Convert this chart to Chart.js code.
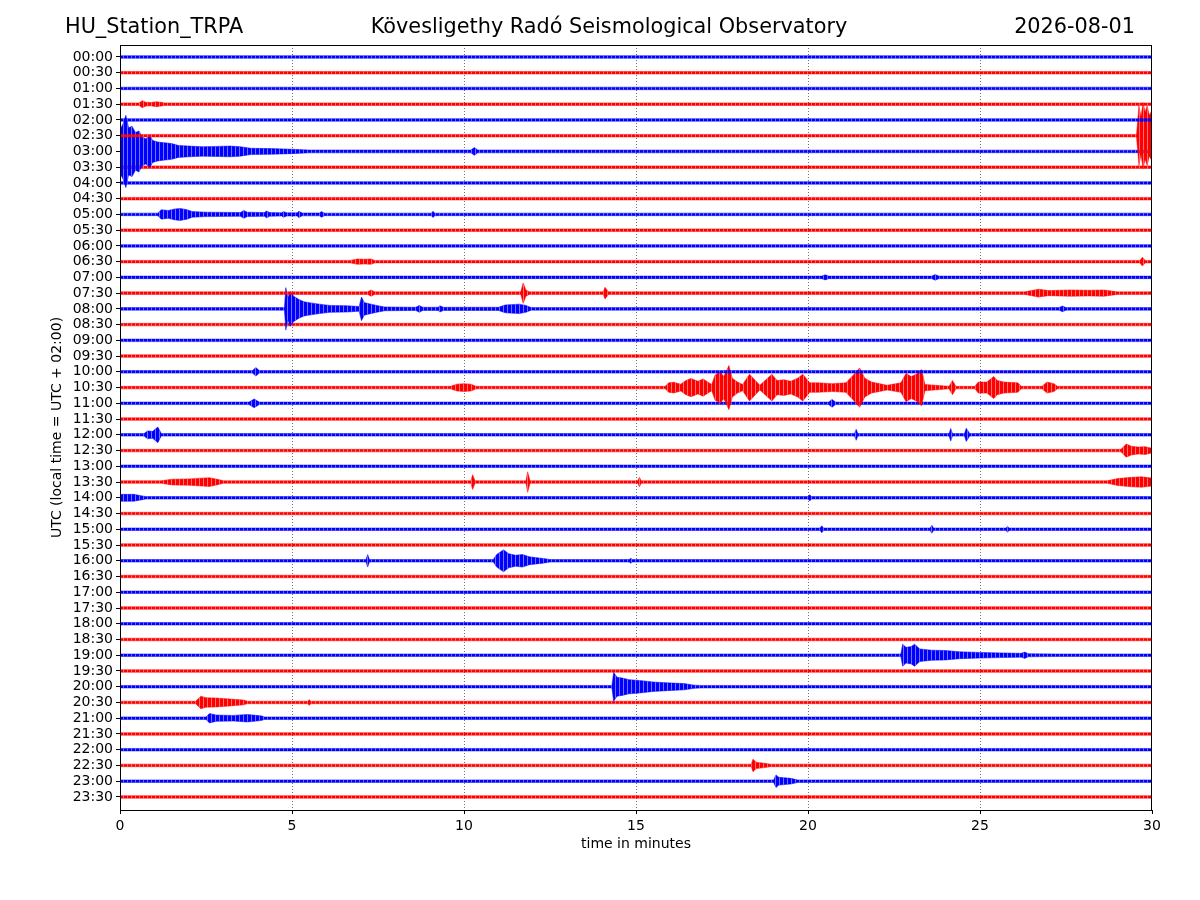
<!DOCTYPE html>
<html>
<head>
<meta charset="utf-8">
<script src="https://cdn.jsdelivr.net/npm/chart.js@4.4.1/dist/chart.umd.min.js"></script>
<style>
  html, body { margin: 0; padding: 0; background: #fff; }
  #wrap { width: 1200px; height: 900px; position: relative; }
</style>
</head>
<body>
<div id="wrap"><canvas id="heli" width="1200" height="900"></canvas></div>
<script>
// helicorder: one trace per half hour, 30 minutes wide

var stationName = 'HU_Station_TRPA';
var observatory = 'Kövesligethy Radó Seismological Observatory';
var dayLabel = '2026-08-01';

var rowLabels = ['00:00','00:30','01:00','01:30','02:00','02:30','03:00','03:30',
  '04:00','04:30','05:00','05:30','06:00','06:30','07:00','07:30',
  '08:00','08:30','09:00','09:30','10:00','10:30','11:00','11:30',
  '12:00','12:30','13:00','13:30','14:00','14:30','15:00','15:30',
  '16:00','16:30','17:00','17:30','18:00','18:30','19:00','19:30',
  '20:00','20:30','21:00','21:30','22:00','22:30','23:00','23:30'];

var xTicks = [0, 5, 10, 15, 20, 25, 30];

// background noise half-width, in trace spacings
var noise = 0.08;

// envelopes: [minute, half amplitude (trace spacings)]
var ev0130 = [[0.55,0.08],[0.65,0.22],[0.75,0.12],[0.9,0.1],[1.05,0.16],[1.2,0.12],[1.3,0.08]];
var ev0230 = [[29.55,0.08],[29.62,1.9],[29.68,1.2],[29.74,2.1],[29.8,1.5],[29.86,1.9],[29.92,1.3],[30,1.6]];
var ev0300 = [[0,1.4],[0.1,1.8],[0.17,2.3],[0.25,1.5],[0.35,1.6],[0.45,1.2],[0.55,1.3],[0.65,0.9],
  [0.75,0.8],[0.87,1.0],[0.95,0.7],[1.1,0.6],[1.3,0.55],[1.5,0.5],[1.7,0.38],[2.0,0.34],[2.4,0.3],
  [2.8,0.32],[3.2,0.34],[3.5,0.3],[3.8,0.2],[4.4,0.18],[5.0,0.14],[5.5,0.09],[10.2,0.09],[10.3,0.25],[10.4,0.09]];
var ev0500 = [[1.1,0.08],[1.2,0.3],[1.4,0.25],[1.6,0.35],[1.75,0.38],[1.95,0.3],[2.1,0.18],[2.5,0.14],
  [3.5,0.12],[3.6,0.25],[3.7,0.14],[4.2,0.12],[4.26,0.22],[4.35,0.12],[4.7,0.1],[4.75,0.18],[4.85,0.1],
  [5.15,0.1],[5.2,0.2],[5.3,0.09],[5.8,0.09],[5.85,0.18],[5.95,0.08],[9.05,0.08],[9.1,0.2],[9.15,0.08]];
var ev0630 = [[6.7,0.08],[6.9,0.17],[7.1,0.15],[7.3,0.17],[7.4,0.08],[29.65,0.08],[29.72,0.28],[29.8,0.08]];
var ev0700 = [[20.4,0.08],[20.5,0.16],[20.6,0.08],[23.6,0.08],[23.7,0.18],[23.8,0.08]];
var ev0730 = [[7.2,0.08],[7.3,0.2],[7.4,0.08],[11.65,0.08],[11.72,0.65],[11.8,0.2],[11.9,0.08],
  [14.05,0.08],[14.1,0.37],[14.2,0.08],[26.3,0.08],[26.7,0.25],[27.0,0.16],[27.6,0.2],[28.2,0.18],[28.6,0.2],[29.0,0.08]];
var ev0800 = [[4.78,0.08],[4.82,1.35],[4.88,0.7],[4.95,1.1],[5.05,0.8],[5.2,0.6],[5.35,0.45],[5.55,0.38],
  [5.8,0.3],[6.1,0.22],[6.6,0.2],[6.95,0.15],[7.02,0.75],[7.1,0.4],[7.3,0.3],[7.5,0.2],[7.7,0.12],
  [8.6,0.1],[8.7,0.22],[8.8,0.1],[9.25,0.1],[9.3,0.2],[9.4,0.1],[11.0,0.1],[11.2,0.25],[11.6,0.3],
  [11.8,0.22],[11.95,0.08],[27.3,0.08],[27.4,0.18],[27.5,0.08]];
var ev1000 = [[3.85,0.08],[3.95,0.27],[4.05,0.08]];
var ev1030 = [[9.6,0.08],[9.8,0.22],[10.0,0.25],[10.2,0.22],[10.35,0.08],[15.85,0.08],[15.95,0.3],
  [16.1,0.34],[16.3,0.22],[16.45,0.45],[16.6,0.58],[16.8,0.4],[16.95,0.55],[17.2,0.2],[17.3,0.8],
  [17.45,1.0],[17.55,0.7],[17.7,1.4],[17.8,0.6],[17.95,0.35],[18.1,0.2],[18.3,0.85],[18.45,0.5],
  [18.6,0.15],[18.95,0.85],[19.1,0.45],[19.3,0.5],[19.5,0.4],[19.7,0.6],[19.85,0.85],[20.05,0.3],
  [20.3,0.3],[20.7,0.25],[21.1,0.3],[21.3,0.75],[21.5,1.25],[21.65,0.6],[21.85,0.35],[22.3,0.15],
  [22.7,0.3],[22.85,0.9],[23.0,0.7],[23.15,0.85],[23.3,1.15],[23.4,0.2],[24.1,0.08],[24.2,0.45],
  [24.3,0.08],[24.85,0.08],[24.95,0.35],[25.2,0.35],[25.4,0.7],[25.5,0.45],[25.7,0.35],[26.1,0.3],
  [26.2,0.08],[26.8,0.08],[26.95,0.35],[27.15,0.25],[27.25,0.08]];
var ev1100 = [[3.75,0.08],[3.9,0.28],[4.05,0.08],[20.6,0.08],[20.7,0.25],[20.8,0.08]];
var ev1200 = [[0.7,0.08],[0.8,0.25],[0.95,0.22],[1.1,0.5],[1.2,0.08],[21.35,0.08],[21.4,0.35],[21.45,0.08],
  [24.1,0.08],[24.15,0.4],[24.2,0.08],[24.55,0.08],[24.6,0.42],[24.7,0.08]];
var ev1230 = [[29.1,0.08],[29.25,0.42],[29.4,0.28],[29.6,0.22],[29.8,0.25],[30,0.15]];
var ev1330 = [[1.2,0.08],[1.5,0.18],[2.0,0.2],[2.6,0.28],[2.9,0.14],[3.0,0.08],[10.2,0.08],[10.25,0.47],
  [10.32,0.08],[11.8,0.08],[11.85,0.65],[11.92,0.08],[15.05,0.08],[15.1,0.3],[15.15,0.08],
  [28.7,0.08],[29.0,0.22],[29.4,0.3],[29.7,0.33],[30,0.25]];
var ev1400 = [[0,0.22],[0.4,0.22],[0.65,0.12],[0.75,0.08],[20.0,0.08],[20.05,0.2],[20.1,0.08]];
var ev1500 = [[20.35,0.08],[20.4,0.22],[20.45,0.08],[23.55,0.08],[23.6,0.25],[23.65,0.08],[25.75,0.08],[25.8,0.18],[25.85,0.08]];
var ev1600 = [[7.15,0.08],[7.2,0.4],[7.25,0.08],[10.85,0.08],[10.95,0.4],[11.15,0.7],[11.3,0.45],
  [11.5,0.35],[11.7,0.4],[11.9,0.25],[12.3,0.15],[12.5,0.08],[14.8,0.08],[14.85,0.16],[14.9,0.08]];
var ev1900 = [[22.7,0.08],[22.75,0.7],[22.85,0.5],[23.0,0.55],[23.1,0.7],[23.25,0.4],[23.6,0.32],
  [24.0,0.3],[24.4,0.22],[25.0,0.18],[25.6,0.15],[26.2,0.12],[26.3,0.2],[26.4,0.1],[27.2,0.08]];
var ev2000 = [[14.3,0.08],[14.35,0.92],[14.45,0.6],[14.6,0.55],[14.8,0.45],[15.1,0.4],[15.5,0.3],
  [15.9,0.25],[16.4,0.2],[16.7,0.1],[16.9,0.08]];
var ev2030 = [[2.2,0.08],[2.35,0.4],[2.5,0.3],[2.8,0.28],[3.2,0.22],[3.6,0.15],[3.7,0.08],[5.45,0.08],[5.5,0.18],[5.55,0.08]];
var ev2100 = [[2.5,0.08],[2.6,0.3],[2.8,0.2],[3.3,0.18],[3.7,0.24],[4.1,0.15],[4.2,0.08]];
var ev2230 = [[18.35,0.08],[18.4,0.4],[18.5,0.2],[18.8,0.12],[18.9,0.08]];
var ev2300 = [[19.0,0.08],[19.07,0.4],[19.15,0.25],[19.5,0.18],[19.7,0.08]];

var eventRows = [['01:30', ev0130], ['02:30', ev0230], ['03:00', ev0300], ['05:00', ev0500],
  ['06:30', ev0630], ['07:00', ev0700], ['07:30', ev0730], ['08:00', ev0800], ['10:00', ev1000],
  ['10:30', ev1030], ['11:00', ev1100], ['12:00', ev1200], ['12:30', ev1230], ['13:30', ev1330],
  ['14:00', ev1400], ['15:00', ev1500], ['16:00', ev1600], ['19:00', ev1900], ['20:00', ev2000],
  ['20:30', ev2030], ['21:00', ev2100], ['22:30', ev2230], ['23:00', ev2300]];

function envelopeFor(label) {
  var pts = [];
  var found = null;
  eventRows.forEach(function (r) { if (r[0] === label) found = r[1]; });
  if (!found || found[0][0] > 0) pts.push([0, noise]);
  if (found) pts = pts.concat(found);
  if (pts[pts.length - 1][0] < 30) pts.push([30, noise]);
  return pts;
}

// vertical hatch so the filled envelopes read like dense wiggles
function wiggle(r, g, b) {
  var p = document.createElement('canvas');
  p.width = 4; p.height = 4;
  var pc = p.getContext('2d');
  pc.fillStyle = 'rgba(' + r + ',' + g + ',' + b + ',1)';
  pc.fillRect(0, 0, 3, 4);
  pc.fillStyle = 'rgba(' + r + ',' + g + ',' + b + ',0.55)';
  pc.fillRect(3, 0, 1, 4);
  return pc.createPattern(p, 'repeat');
}
var bluePat = wiggle(0, 0, 255);
var redPat = wiggle(255, 0, 0);

var datasets = [];
rowLabels.forEach(function (label, i) {
  var col = (i % 2 === 0) ? '#0000ff' : '#ff0000';
  var pat = (i % 2 === 0) ? bluePat : redPat;
  var env = envelopeFor(label);
  datasets.push({
    label: label,
    data: env.map(function (p) { return { x: p[0], y: i - p[1] }; }),
    borderColor: col, borderWidth: 0.5, backgroundColor: pat,
    pointRadius: 0, fill: false, tension: 0
  });
  datasets.push({
    label: label + ' low',
    data: env.map(function (p) { return { x: p[0], y: i + p[1] }; }),
    borderColor: col, borderWidth: 0.5, backgroundColor: pat,
    pointRadius: 0, fill: '-1', tension: 0
  });
});

var headerPlugin = {
  id: 'header',
  afterDraw: function (chart) {
    var c = chart.ctx, a = chart.chartArea;
    c.save();
    c.strokeStyle = '#000';
    c.lineWidth = 1;
    c.strokeRect(a.left + 0.5, a.top + 0.5, a.right - a.left - 1, a.bottom - a.top);
    c.fillStyle = '#000';
    c.font = '20.8px "DejaVu Sans"';
    c.textBaseline = 'middle';
    c.textAlign = 'left';
    c.fillText(stationName, 65, 28);
    c.textAlign = 'center';
    c.fillText(observatory, 609, 28);
    c.textAlign = 'right';
    c.fillText(dayLabel, 1135, 28);
    c.restore();
  }
};

var ctx = document.getElementById('heli').getContext('2d');
var chart = new Chart(ctx, {
  type: 'line',
  data: { datasets: datasets },
  options: {
    responsive: false,
    animation: false,
    layout: { padding: { top: 45, right: 48, left: 0, bottom: 0 } },
    plugins: { legend: { display: false }, tooltip: { enabled: false } },
    scales: {
      x: {
        type: 'linear', min: 0, max: 30,
        afterFit: function (s) { s.height = 90; },
        afterBuildTicks: function (s) { s.ticks = xTicks.map(function (v) { return { value: v }; }); },
        ticks: { color: '#000', padding: 4, maxRotation: 0, font: { family: 'DejaVu Sans', size: 14 } },
        grid: {
          color: function (c) { return (c.tick && (c.tick.value === 0 || c.tick.value === 30)) ? 'rgba(0,0,0,0)' : 'rgba(0,0,0,0.7)'; },
          lineWidth: 0.8, tickLength: 4, tickColor: '#000', tickWidth: 1, tickBorderDash: []
        },
        border: { display: false, dash: [1, 2] },
        title: { display: true, text: 'time in minutes', color: '#000',
          font: { family: 'DejaVu Sans', size: 14 }, padding: { top: 0, bottom: 47 } }
      },
      y: {
        type: 'linear', min: -0.76, max: 47.83, reverse: true,
        afterFit: function (s) { s.width = 120; },
        afterBuildTicks: function (s) { s.ticks = rowLabels.map(function (l, i) { return { value: i }; }); },
        ticks: { color: '#000', padding: 3, autoSkip: false,
          font: { family: 'DejaVu Sans', size: 14 },
          callback: function (v) { return rowLabels[v]; } },
        grid: { drawOnChartArea: false, tickLength: 4, tickColor: '#000', tickWidth: 1 },
        border: { display: false },
        title: { display: true, text: 'UTC (local time = UTC + 02:00)', color: '#000',
          font: { family: 'DejaVu Sans', size: 14 }, padding: { top: 49, bottom: 0 } }
      }
    }
  },
  plugins: [headerPlugin]
});
</script>
</body>
</html>
